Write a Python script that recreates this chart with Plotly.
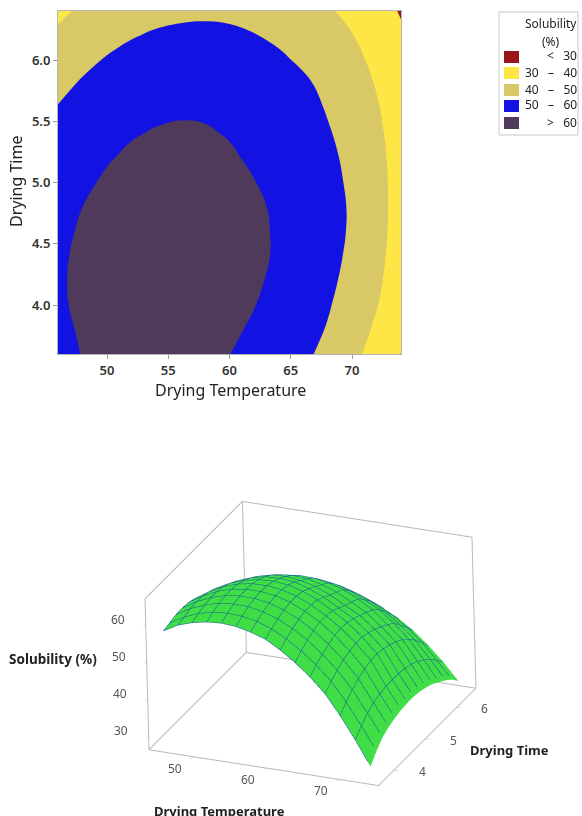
import plotly.graph_objects as go

W, H = 582, 816
temperature = [46, 48, 50, 52, 54, 56, 58, 60, 62, 64, 66, 68, 70, 72, 74]
drying_time = [3.6, 3.8, 4.0, 4.2, 4.4, 4.6, 4.8, 5.0, 5.2, 5.4, 5.6, 5.8, 6.0, 6.2, 6.4]
solubility = [
    [58.0, 60.2, 61.5, 62.3, 62.6, 62.3, 61.4, 60.1, 57.8, 55.0, 51.7, 47.8, 42.5, 36.5, 29.9],
    [58.5, 60.7, 62.3, 63.3, 63.6, 63.4, 62.6, 61.2, 59.1, 56.5, 53.3, 49.5, 44.5, 38.6, 32.5],
    [59.0, 61.3, 62.9, 64.0, 64.4, 64.3, 63.5, 62.2, 60.2, 57.7, 54.5, 50.8, 46.1, 40.4, 34.5],
    [59.1, 61.5, 63.2, 64.4, 64.9, 64.8, 64.2, 62.9, 61.0, 58.6, 55.5, 51.9, 47.4, 41.5, 35.6],
    [58.9, 61.3, 63.2, 64.4, 65.0, 65.0, 64.5, 63.3, 61.5, 59.2, 56.2, 52.6, 48.4, 42.2, 36.3],
    [58.3, 60.8, 62.8, 64.1, 64.8, 64.9, 64.4, 63.3, 61.5, 59.2, 56.4, 53.0, 49.0, 42.6, 36.8],
    [57.4, 60.0, 62.0, 63.4, 64.2, 64.4, 64.0, 62.9, 61.2, 58.9, 56.3, 53.0, 49.1, 42.7, 37.0],
    [56.1, 58.8, 60.9, 62.4, 63.3, 63.5, 63.1, 61.9, 60.2, 57.9, 55.6, 52.4, 48.7, 42.6, 37.0],
    [54.4, 57.3, 59.5, 61.1, 62.1, 62.3, 61.8, 60.8, 59.1, 56.9, 54.8, 51.7, 48.1, 42.3, 36.7],
    [52.6, 55.5, 57.8, 59.5, 60.5, 60.9, 60.6, 59.6, 58.2, 56.1, 53.9, 50.7, 47.2, 41.7, 36.1],
    [50.5, 53.4, 55.7, 57.5, 58.6, 59.2, 59.1, 58.4, 57.2, 55.3, 52.9, 49.5, 46.1, 40.8, 35.3],
    [47.9, 50.9, 53.3, 55.2, 56.4, 57.0, 57.0, 56.4, 55.2, 53.4, 51.3, 48.2, 44.5, 39.5, 34.1],
    [45.0, 48.1, 50.6, 52.5, 53.8, 54.5, 54.6, 54.1, 52.9, 51.2, 48.9, 46.0, 42.5, 37.9, 32.9],
    [41.7, 44.9, 47.5, 49.5, 50.9, 51.6, 51.8, 51.4, 50.3, 48.7, 46.5, 43.7, 40.3, 36.0, 31.4],
    [38.1, 41.4, 44.0, 46.1, 47.6, 48.4, 48.7, 48.4, 47.4, 45.9, 43.8, 41.1, 37.7, 33.8, 29.3],
]
legend_title = ["Solubility", "(%)"]
legend_labels = ["<   30", "30   \u2013   40", "40   \u2013   50", "50   \u2013   60", ">   60"]
band_colors = ["#9b1518", "#fde645", "#d8c866", "#1212e2", "#4f3a5c"]

x_ticks = [50, 55, 60, 65, 70]
y_ticks = [4.0, 4.5, 5.0, 5.5, 6.0]
x3_ticks = [50, 60, 70]
y3_ticks = [4, 5, 6]
z3_ticks = [30, 40, 50, 60]
x3_range = [44.0, 75.5]
y3_range = [3.5, 6.61]
z3_range = [26.0, 67.0]

FONT = "Noto Sans"
px = lambda v: v / W
py = lambda v: 1 - v / H

scale = []
for i, c in enumerate(band_colors):
    scale += [[i / 5, c], [(i + 1) / 5, c]]

fig = go.Figure()
fig.add_trace(go.Contour(
    x=temperature, y=drying_time, z=solubility,
    zmin=20, zmax=70, colorscale=scale, showscale=False,
    autocontour=False,
    contours=dict(start=30, end=60, size=10, coloring="fill", showlines=False),
    line=dict(width=0, smoothing=1.3), hoverinfo="skip",
))

fig.add_trace(go.Surface(
    x=temperature, y=drying_time, z=solubility, scene="scene",
    surfacecolor=[[0] * len(temperature) for _ in drying_time],
    colorscale=[[0, "#3fde47"], [1, "#3fde47"]], showscale=False,
    lighting=dict(ambient=1.0, diffuse=0.0, specular=0, roughness=1, fresnel=0),
    contours=dict(
        x=dict(show=True, start=46, end=74, size=2, color="#125a96", width=4),
        y=dict(show=True, start=3.6, end=6.4, size=0.2, color="#125a96", width=4),
        z=dict(show=False),
    ),
    hoverinfo="skip",
))

# box edges sit a hair inside the axis ranges so the scene's clip bounds keep them
x0, x1 = x3_range[0] + 0.03, x3_range[1] - 0.03
y0, y1 = y3_range[0] + 0.003, y3_range[1] - 0.003
z0, z1 = z3_range[0] + 0.04, z3_range[1] - 0.04
edges = [
    ([x0, x1], [y0, y0], [z0, z0]),
    ([x1, x1], [y0, y1], [z0, z0]),
    ([x1, x0], [y1, y1], [z0, z0]),
    ([x0, x0], [y1, y0], [z0, z0]),
    ([x0, x0], [y0, y0], [z0, z1]),
    ([x0, x0], [y0, y1], [z1, z1]),
    ([x0, x1], [y1, y1], [z1, z1]),
    ([x1, x1], [y1, y1], [z1, z0]),
    ([x0, x0], [y1, y1], [z0, z1]),
]
for ex, ey, ez in edges:
    fig.add_trace(go.Scatter3d(
        x=ex, y=ey, z=ez, mode="lines", scene="scene",
        line=dict(color="#b8b8b8", width=2), showlegend=False, hoverinfo="skip",
    ))

axis3 = dict(showgrid=False, zeroline=False, showbackground=False, showspikes=False,
             showline=False, title=dict(text=""), ticks="outside", ticklen=5,
             tickcolor="#b8b8b8", showticklabels=False)

tick_font = dict(family=FONT, size=12, color="#555")
scene_notes = []
for v in x3_ticks:
    scene_notes.append(dict(x=v, y=y0, z=z0, text=str(v), showarrow=False, xshift=-18, yshift=-12, font=tick_font))
for v in y3_ticks:
    scene_notes.append(dict(x=x1, y=v, z=z0, text=str(v), showarrow=False, xshift=28, yshift=-2, font=tick_font))
for v in z3_ticks:
    scene_notes.append(dict(x=x0, y=y0, z=v, text=str(v), showarrow=False, xshift=-28, yshift=4, font=tick_font))

fig.update_layout(
    width=W, height=H, margin=dict(l=0, r=0, t=0, b=0), showlegend=False,
    paper_bgcolor="white", plot_bgcolor="white", font=dict(family=FONT),
    xaxis=dict(domain=[px(58), px(401)], range=[46, 74], tickvals=x_ticks,
               ticks="outside", ticklen=4, tickcolor="#999", showline=True,
               linecolor="#b5b5b5", linewidth=1, mirror=True, showgrid=False, zeroline=False,
               tickfont=dict(family=FONT, size=13, color="#333", weight=600)),
    yaxis=dict(domain=[py(354), py(11)], range=[3.6, 6.4], tickvals=y_ticks, tickformat=".1f",
               ticks="outside", ticklen=4, tickcolor="#999", showline=True,
               linecolor="#b5b5b5", linewidth=1, mirror=True, showgrid=False, zeroline=False,
               tickfont=dict(family=FONT, size=13, color="#333", weight=600)),
    scene=dict(
        domain=dict(x=[px(41), px(580)], y=[py(809.5), py(476.5)]),
        bgcolor="rgba(0,0,0,0)",
        aspectmode="manual", aspectratio=dict(x=1.502, y=1.495, z=1.0),
        camera=dict(eye=dict(x=0.3655 * 2.1, y=-0.8323 * 2.1, z=0.4166 * 2.1),
                    up=dict(x=-0.1433, y=0.3919, z=0.9088),
                    center=dict(x=0, y=0, z=0),
                    projection=dict(type="orthographic")),
        xaxis=dict(axis3, range=x3_range, tickvals=x3_ticks),
        yaxis=dict(axis3, range=y3_range, tickvals=y3_ticks),
        zaxis=dict(axis3, range=z3_range, tickvals=z3_ticks),
        annotations=scene_notes,
    ),
)

def note(x, y, text, size=12, bold=False, angle=0, color="#222", anchor="center"):
    fig.add_annotation(xref="paper", yref="paper", x=px(x), y=py(y), text=f"<b>{text}</b>" if bold else text,
                       showarrow=False, textangle=angle, xanchor=anchor, yanchor="middle",
                       font=dict(family=FONT, size=size, color=color))

note(230, 390, "Drying Temperature", 16)
note(16, 182, "Drying Time", 16, angle=-90)
note(53, 659, "Solubility (%)", 13.5, bold=True)
note(509, 750, "Drying Time", 13, bold=True)
note(219, 811, "Drying Temperature", 13, bold=True)

fig.add_shape(type="rect", xref="paper", yref="paper", x0=px(499), x1=px(578), y0=py(135), y1=py(12),
              line=dict(color="#c8c8c8", width=1), fillcolor="white")
note(551, 23, legend_title[0], 12)
note(551, 41, legend_title[1], 12)
row_y = [57, 73, 90, 106, 123]
for yy, col, lab in zip(row_y, band_colors, legend_labels):
    fig.add_shape(type="rect", xref="paper", yref="paper", x0=px(504), x1=px(519), y0=py(yy + 6), y1=py(yy - 6),
                  line=dict(width=0), fillcolor=col)
    note(579, yy - 1, lab, 12, anchor="right")

fig.write_html("out.html", config=dict(displayModeBar=False),
               post_script="document.body.style.margin='0';document.documentElement.style.overflow='hidden';")
